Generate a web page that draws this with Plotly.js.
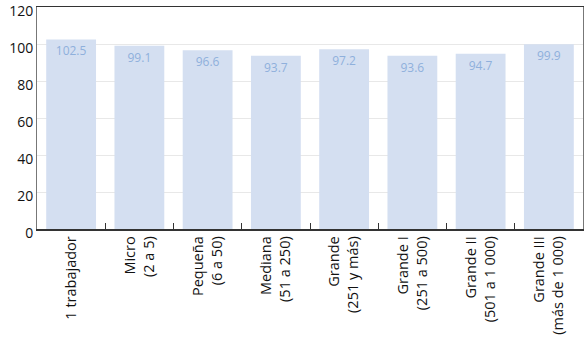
<!DOCTYPE html>
<html><head><meta charset="utf-8">
<script src="https://cdn.plot.ly/plotly-3.0.1.min.js"></script>
<style>body{margin:0;background:#fff}#c{width:587px;height:340px}</style>
</head><body><div id="c"></div>
<script>
const categories = ["1 trabajador","Micro<br>(2 a 5)","Pequeña<br>(6 a 50)","Mediana<br>(51 a 250)","Grande<br>(251 y más)","Grande I<br>(251 a 500)","Grande II<br>(501 a 1 000)","Grande III<br>(más de 1 000)"];
const values = [102.5, 99.1, 96.6, 93.7, 97.2, 93.6, 94.7, 99.9];
const valueLabels = ["102.5","99.1","96.6","93.7","97.2","93.6","94.7","99.9"];
const yTicks = [0,20,40,60,80,100,120];

Plotly.newPlot('c', [{
  type: 'bar',
  x: categories,
  y: values,
  text: valueLabels,
  textposition: 'inside',
  insidetextanchor: 'end',
  textangle: 0,
  textfont: {family: 'Open Sans, sans-serif', size: 12, color: '#8fb0dc'},
  marker: {color: '#d4dff1'},
  cliponaxis: false,
  hoverinfo: 'none'
}], {
  width: 587, height: 340,
  margin: {l: 37, r: 4, t: 7, b: 111},
  paper_bgcolor: '#fff', plot_bgcolor: '#fff',
  bargap: 0.27,
  showlegend: false,
  font: {family: 'Open Sans, sans-serif', color: '#111'},
  xaxis: {
    type: 'category',
    tickangle: -90,
    tickson: 'boundaries',
    ticks: 'inside', ticklen: 6, tickcolor: '#333',
    tickfont: {size: 14.5, color: '#111'},
    showline: true, linecolor: '#333', linewidth: 1.5,
    mirror: true,
    showgrid: false
  },
  yaxis: {
    range: [0, 120],
    tickvals: yTicks,
    ticktext: yTicks.map(String),
    ticks: '',
    ticklabeloverflow: 'allow',
    ticklabelshift: 4,
    tickfont: {size: 14, color: '#111'},
    gridcolor: '#e8e8e8', gridwidth: 1,
    showline: true, linecolor: '#777', linewidth: 1,
    mirror: true,
    zeroline: false
  }
}, {displayModeBar: false, staticPlot: true});
</script></body></html>
